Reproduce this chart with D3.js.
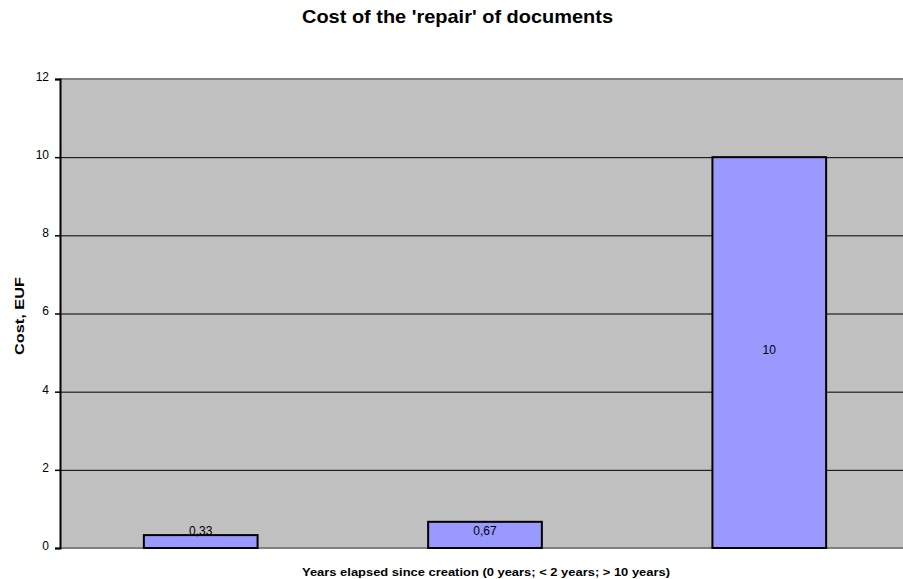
<!DOCTYPE html>
<html>
<head>
<meta charset="utf-8">
<script src="https://cdn.jsdelivr.net/npm/d3@7"></script>
<style>
  html, body { margin: 0; padding: 0; background: #fff; overflow: hidden; }
  text { font-family: "Liberation Sans", Arial, sans-serif; }
</style>
</head>
<body>
<script>
const title = "Cost of the 'repair' of documents";
const xTitle = "Years elapsed since creation (0 years; < 2 years; > 10 years)";
const yTitle = "Cost, EUF";
const categories = ["0 years", "< 2 years", "> 10 years"];
const values = [0.33, 0.67, 10];
const valueLabels = ["0,33", "0,67", "10"];
const yTicks = [0, 2, 4, 6, 8, 10, 12];

const W = 903, H = 579;
const plot = { left: 60, right: 910, top: 79, bottom: 548 };

const svg = d3.select("body").append("svg").attr("width", W).attr("height", H);

const x = d3.scaleBand().domain(categories).range([plot.left, plot.right]).paddingInner(0.6).paddingOuter(0.295);
const y = d3.scaleLinear().domain([0, 12]).range([plot.bottom, plot.top]);

// plot background
svg.append("rect")
  .attr("x", plot.left).attr("y", plot.top)
  .attr("width", plot.right - plot.left).attr("height", plot.bottom - plot.top)
  .attr("fill", "#C0C0C0");

// gridlines
svg.append("g").selectAll("line").data(yTicks.filter(t => t > 0 && t < 12)).join("line")
  .attr("x1", plot.left).attr("x2", plot.right)
  .attr("y1", d => y(d) + 0.5).attr("y2", d => y(d) + 0.5)
  .attr("stroke", "#000").attr("stroke-width", 1);

// top and bottom borders (gray)
svg.append("line").attr("x1", plot.left).attr("x2", plot.right)
  .attr("y1", y(12)).attr("y2", y(12)).attr("stroke", "#808080").attr("stroke-width", 2);
svg.append("line").attr("x1", plot.left).attr("x2", plot.right)
  .attr("y1", y(0)).attr("y2", y(0)).attr("stroke", "#808080").attr("stroke-width", 2);

// bars
svg.append("g").selectAll("rect").data(values).join("rect")
  .attr("x", (d, i) => x(categories[i]))
  .attr("y", d => y(d))
  .attr("width", x.bandwidth())
  .attr("height", d => y(0) - y(d))
  .attr("fill", "#9999FF")
  .attr("stroke", "#000").attr("stroke-width", 2);

// value labels
svg.append("g").selectAll("text").data(values).join("text")
  .attr("x", (d, i) => x(categories[i]) + x.bandwidth() / 2)
  .attr("y", d => Math.min((y(d) + y(0)) / 2 - 3, y(0) - 17.5))
  .attr("dy", "0.35em")
  .attr("text-anchor", "middle")
  .attr("font-size", 12)
  .attr("fill", "#000")
  .text((d, i) => valueLabels[i]);

// y axis
const yAxis = d3.axisLeft(y).tickValues(yTicks).tickSize(5).tickPadding(6).tickFormat(d3.format("d"));
const gy = svg.append("g").attr("transform", `translate(${plot.left},0)`).call(yAxis);
gy.select(".domain").attr("stroke", "#000").attr("stroke-width", 2);
gy.selectAll(".tick line").attr("stroke", "#000").attr("stroke-width", 1.5);
gy.selectAll(".tick text").attr("font-size", 12).attr("fill", "#000").attr("dy", "0.12em")
  .attr("font-family", "'Liberation Sans', Arial, sans-serif");

// titles
svg.append("text").attr("x", 457.5).attr("y", 23)
  .attr("text-anchor", "middle").attr("font-size", 19).attr("font-weight", "bold")
  .attr("textLength", 311).attr("lengthAdjust", "spacingAndGlyphs")
  .text(title);

svg.append("text").attr("x", 486).attr("y", 575.5)
  .attr("text-anchor", "middle").attr("font-size", 11.5).attr("font-weight", "bold")
  .attr("textLength", 368).attr("lengthAdjust", "spacingAndGlyphs")
  .text(xTitle);

svg.append("text")
  .attr("transform", `translate(24,316) rotate(-90)`)
  .attr("text-anchor", "middle").attr("font-size", 12.5).attr("font-weight", "bold")
  .attr("textLength", 78).attr("lengthAdjust", "spacingAndGlyphs")
  .text(yTitle);
</script>
</body>
</html>
